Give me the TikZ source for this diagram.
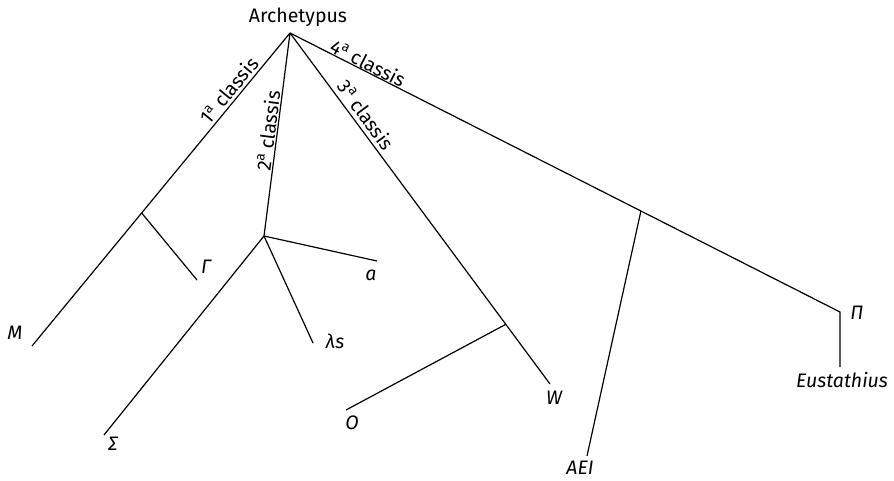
\documentclass[tikz,border=0pt]{standalone}
\usepackage{fontspec}
\setmainfont{Fira Sans}
\usetikzlibrary{calc}
\begin{document}
\begin{tikzpicture}[x=1pt,y=-1pt,
  edge/.style={line width=1.2pt},
  lbl/.style={font=\fontsize{19.5}{22}\selectfont\itshape, inner sep=0pt},
  cls/.style={font=\fontsize{19.5}{22}\selectfont, inner sep=0pt}]
\useasboundingbox (0,0) rectangle (894,481);
\node[cls] (arch) at (298,17) {Archetypus};
\coordinate (apex) at (290,33);
\coordinate (m) at (32,346);
\coordinate (n1) at ($(apex)!0.575!(m)$);
\coordinate (gam) at (197,280);
\coordinate (n2) at (264,236);
\coordinate (sig) at (104,435);
\coordinate (ls) at (313,343);
\coordinate (aa) at (377,261);
\coordinate (w) at (550,384);
\coordinate (n3) at ($(apex)!0.83!(w)$);
\coordinate (o) at (346,410);
\coordinate (p) at (840,312);
\coordinate (eu) at (840,367);
\coordinate (n4) at ($(apex)!0.638!(p)$);
\coordinate (aei) at (587,456);

\draw[edge] (apex) -- (m);
\draw[edge] (n1) -- (gam);
\draw[edge] (apex) -- (n2);
\draw[edge] (n2) -- (sig);
\draw[edge] (n2) -- (ls);
\draw[edge] (n2) -- (aa);
\draw[edge] (apex) -- (w);
\draw[edge] (n3) -- (o);
\draw[edge] (apex) -- (p) -- (eu);
\draw[edge] (n4) -- (aei);

\node[lbl] (lm) at (15,333) {M};
\node[lbl] (lgam) at (206,267) {Γ};
\node[lbl] (la) at (371,275) {a};
\node[lbl] (lls) at (335,341) {λs};
\node[lbl] (lsig) at (113,444) {Σ};
\node[lbl] (lo) at (352,423) {O};
\node[lbl] (lw) at (554,398) {W};
\node[lbl] (laei) at (580,468) {AEI};
\node[lbl] (lp) at (857,313) {Π};
\node[lbl] (leu) at (842,380) {Eustathius};

\node[cls, rotate=50.5] (c1) at (229,90) {1\textsuperscript{a} classis};
\node[cls, rotate=82.7] (c2) at (268,131) {2\textsuperscript{a} classis};
\node[cls, rotate=-53.6] (c3) at (366,115) {3\textsuperscript{a} classis};
\node[cls, rotate=-26.9] (c4) at (368,63) {4\textsuperscript{a} classis};
\end{tikzpicture}
\end{document}
